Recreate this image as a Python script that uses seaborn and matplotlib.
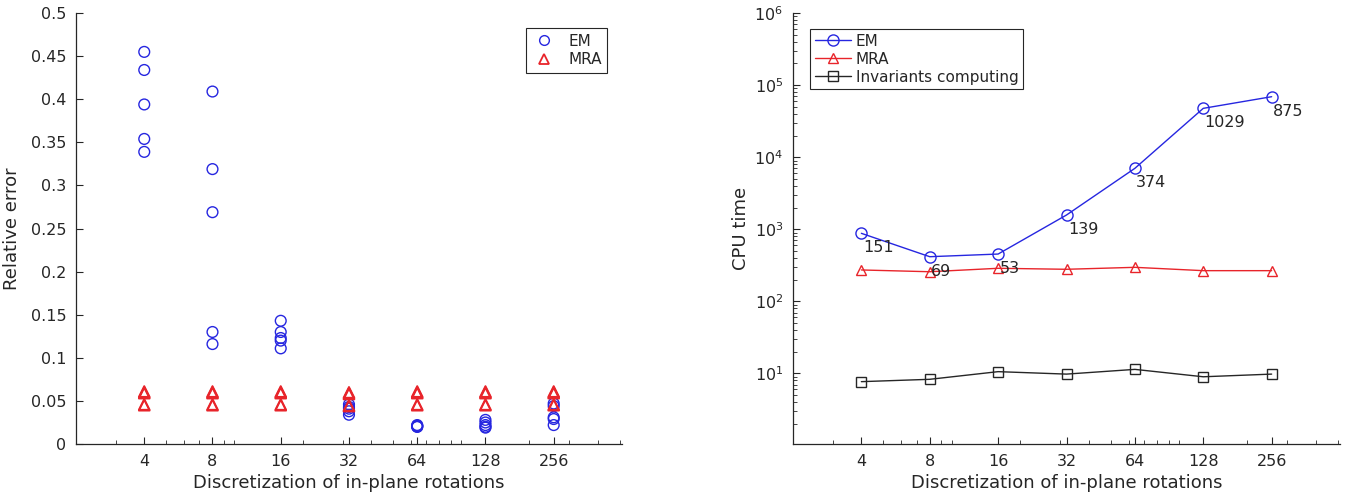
import numpy as np
import pandas as pd
import matplotlib
matplotlib.use('Agg')
import matplotlib.pyplot as plt
from matplotlib.lines import Line2D
from matplotlib.ticker import FixedLocator, LogLocator, NullFormatter, FuncFormatter, LogFormatterSciNotation
import seaborn as sns

rotations = [4, 8, 16, 32, 64, 128, 256]
rot_labels = ['4', '8', '16', '32', '64', '128', '256']
time_ticks = [1e1, 1e2, 1e3, 1e4, 1e5, 1e6]

# relative error, 5 trials for each discretization
em_err = [
    [0.455, 0.434, 0.394, 0.354, 0.339],
    [0.409, 0.319, 0.269, 0.130, 0.116],
    [0.143, 0.130, 0.123, 0.120, 0.111],
    [0.046, 0.043, 0.041, 0.038, 0.034],
    [0.022, 0.021, 0.021, 0.020, 0.020],
    [0.028, 0.025, 0.022, 0.020, 0.019],
    [0.047, 0.044, 0.031, 0.029, 0.022],
]
mra_err = [
    [0.061, 0.060, 0.059, 0.046, 0.045],
    [0.061, 0.060, 0.059, 0.046, 0.045],
    [0.061, 0.060, 0.059, 0.046, 0.045],
    [0.060, 0.059, 0.058, 0.045, 0.044],
    [0.061, 0.060, 0.059, 0.046, 0.045],
    [0.061, 0.060, 0.059, 0.046, 0.045],
    [0.061, 0.060, 0.059, 0.046, 0.045],
]

# CPU time
em_time = [880, 417, 454, 1580, 7020, 47700, 69200]
mra_time = [273, 258, 288, 279, 297, 267, 267]
inv_time = [7.7, 8.3, 10.6, 9.8, 11.4, 9.0, 9.8]
em_iters = ['151', '69', '53', '139', '374', '1029', '875']

BLUE = '#2626e0'
RED = '#e8242a'
DARK = '#262626'

sns.set_theme(style='ticks')
plt.rcParams['font.family'] = ['DejaVu Sans']
plt.rcParams['mathtext.fontset'] = 'dejavusans'

rows = []
for x, vals in zip(rotations, em_err):
    for v in vals:
        rows.append(('EM', x, v))
for x, vals in zip(rotations, mra_err):
    for v in vals:
        rows.append(('MRA', x, v))
err_df = pd.DataFrame(rows, columns=['method', 'rot', 'err'])

fig = plt.figure(figsize=(13.5, 5.04), dpi=100)
ax1 = fig.add_axes([0.0563, 0.119, 0.4044, 0.855])
ax2 = fig.add_axes([0.5874, 0.119, 0.4052, 0.855])

# left: relative error
for name, col, mk in [('EM', BLUE, 'o'), ('MRA', RED, '^')]:
    sub = err_df[err_df['method'] == name]
    sns.scatterplot(data=sub, x='rot', y='err', marker=mk, s=60, color=col,
                    linewidth=1.3 if name == 'MRA' else 1.0, ax=ax1, legend=False, zorder=3)
    pts = ax1.collections[-1]
    pts.set_edgecolors(col)
    pts.set_facecolors('none')

ax1.set_xscale('log')
ax1.set_xlim(2, 512)
ax1.set_ylim(0, 0.5)
ax1.xaxis.set_major_locator(FixedLocator(rotations))
ax1.set_xticklabels(rot_labels)
ax1.xaxis.set_minor_locator(LogLocator(base=10, subs=np.arange(1, 10)))
ax1.xaxis.set_minor_formatter(NullFormatter())
ax1.yaxis.set_major_locator(FixedLocator(np.arange(0, 0.501, 0.05)))
ax1.yaxis.set_major_formatter(FuncFormatter(lambda v, p: f'{v:g}'))
ax1.set_xlabel('Discretization of in-plane rotations', fontsize=13, color=DARK, labelpad=4)
ax1.set_ylabel('Relative error', fontsize=13, color=DARK, labelpad=7)

h1 = [Line2D([], [], ls='none', marker='o', mfc='none', mec=BLUE, ms=7, mew=1.0),
      Line2D([], [], ls='none', marker='^', mfc='none', mec=RED, ms=7, mew=1.3)]
leg1 = ax1.legend(h1, ['EM', 'MRA'], loc='upper right', bbox_to_anchor=(0.9725, 0.965),
                  borderaxespad=0, fancybox=False, framealpha=1, edgecolor=DARK,
                  fontsize=11, handlelength=1.6, handletextpad=0.8, borderpad=0.35,
                  labelspacing=0.25)
leg1.get_frame().set_linewidth(0.8)

# right: CPU time
series = [('EM', em_time, BLUE, 'o', 8), ('MRA', mra_time, RED, '^', 7.5),
          ('Invariants computing', inv_time, DARK, 's', 6.5)]
for name, vals, col, mk, ms in series:
    sns.lineplot(x=rotations, y=vals, color=col, lw=1.0, marker=mk, ms=ms,
                 markerfacecolor='none', markeredgecolor=col, markeredgewidth=1.0,
                 label=name, ax=ax2, zorder=3)

for x, y, t in zip(rotations, em_time, em_iters):
    ax2.annotate(t, (x, y), xytext=(1, -5), textcoords='offset points',
                 ha='left', va='top', fontsize=11.5, color=DARK)

ax2.set_xscale('log')
ax2.set_yscale('log')
ax2.set_xlim(2, 512)
ax2.set_ylim(1.05, 1e6)
ax2.xaxis.set_major_locator(FixedLocator(rotations))
ax2.set_xticklabels(rot_labels)
ax2.xaxis.set_minor_locator(LogLocator(base=10, subs=np.arange(1, 10)))
ax2.xaxis.set_minor_formatter(NullFormatter())
ax2.yaxis.set_major_locator(FixedLocator(time_ticks))
ax2.yaxis.set_major_formatter(LogFormatterSciNotation())
ax2.yaxis.set_minor_locator(LogLocator(base=10, subs=np.arange(2, 10), numticks=20))
ax2.yaxis.set_minor_formatter(NullFormatter())
ax2.set_xlabel('Discretization of in-plane rotations', fontsize=13, color=DARK, labelpad=4)
ax2.set_ylabel('CPU time', fontsize=13, color=DARK, labelpad=3)

leg2 = ax2.legend(loc='upper left', bbox_to_anchor=(0.031, 0.963), borderaxespad=0,
                  fancybox=False, framealpha=1, edgecolor=DARK, fontsize=11,
                  handlelength=2.4, handletextpad=0.3, borderpad=0.3, labelspacing=0.2)
leg2.get_frame().set_linewidth(0.8)

for ax in (ax1, ax2):
    sns.despine(ax=ax)
    for s in ('left', 'bottom'):
        ax.spines[s].set_color(DARK)
        ax.spines[s].set_linewidth(0.9)
    ax.tick_params(which='major', direction='in', length=5, width=0.8, colors=DARK,
                   labelsize=11.5, pad=7)
    ax.tick_params(which='minor', direction='in', length=3, width=0.6, colors=DARK)
    ax.set_facecolor('white')

fig.savefig('out.png', dpi=100, facecolor='white')
